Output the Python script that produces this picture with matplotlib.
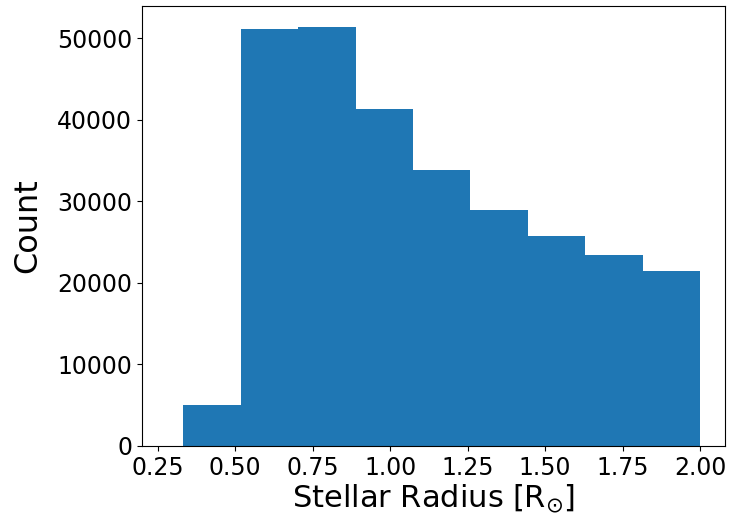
import numpy as np
import matplotlib
matplotlib.use('Agg')
import matplotlib.pyplot as plt

# bin edges and counts
bin_edges = [0.333, 0.518, 0.704, 0.889, 1.074, 1.259, 1.444, 1.630, 1.815, 2.000]
counts = [5000, 51100, 51350, 41300, 33800, 28900, 25800, 23450, 21500]
xticks = [0.25, 0.5, 0.75, 1.0, 1.25, 1.5, 1.75, 2.0]


def main():
    fig, ax = plt.subplots(figsize=(7.36, 5.24), dpi=100)
    ax.hist(bin_edges[:-1], bins=bin_edges, weights=counts, color='#1f77b4')
    ax.set_xticks(xticks)
    ax.set_xticklabels(['%.2f' % t for t in xticks])
    ax.set_xlim(0.20, 2.08)
    ax.tick_params(labelsize=17)
    ax.set_xlabel(r'Stellar Radius [R$_{\odot}$]', fontsize=22, labelpad=2)
    ax.set_ylabel('Count', fontsize=23, labelpad=10)
    plt.subplots_adjust(left=0.193, right=0.985, top=0.988, bottom=0.149)
    plt.savefig('out.png')


if __name__ == '__main__':
    main()
